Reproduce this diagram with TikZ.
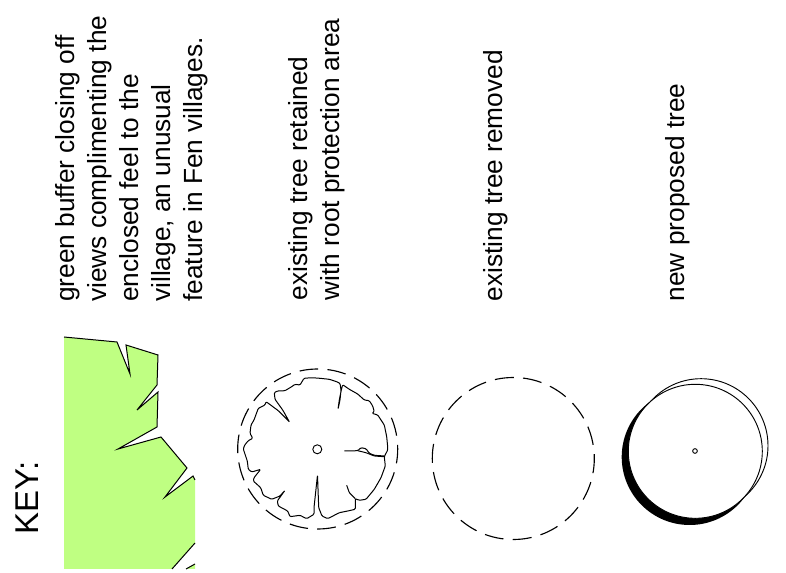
\documentclass[tikz,border=0pt]{standalone}
\usepackage{fontspec}
\setmainfont{Liberation Sans}
\usetikzlibrary{positioning}
\definecolor{buffergreen}{RGB}{191,255,130}
\tikzset{
  keytext/.style={rotate=90,anchor=west,align=left,inner sep=0pt,font=\fontsize{19.7}{24}\selectfont},
  keyhead/.style={rotate=90,anchor=west,inner sep=0pt,font=\fontsize{24.7}{28}\selectfont},
  edgeln/.style={line width=0.75pt,line join=miter},
  canopy/.style={line width=0.75pt,line join=round,rounded corners=0.8pt},
  rpa/.style={line width=0.85pt,dash pattern=on #1pt off 6.95pt,dash phase=3.2pt},
  ringln/.style={line width=0.7pt},
}
\begin{document}
\begin{tikzpicture}[x=0.75pt,y=-0.75pt]
  \useasboundingbox (0,0) rectangle (786,573);
  % labels
  \node[keyhead] (keyhd) at (27.5,534.5) {KEY:};
  \node[keytext] (lblbuffer) at (132,302) {green buffer closing off\\views complimenting the\\enclosed feel to the\\village, an unusual\\feature in Fen villages.};
  \node[keytext] (lblkept) at (317,300.5) {existing tree retained\\with root protection area};
  \node[keytext] (lblgone) at (496,301.5) {existing tree removed};
  \node[keytext] (lblnew) at (678,301.5) {new proposed tree};
  % green buffer
  \fill[buffergreen] (64,337)--(117,342)--(130,374)--(126,345)--(158,355)--(157,385)--(137,410)
    --(158,392)--(157,427)--(118,449)--(161,437)--(187,468)--(165,497)--(193,476)--(195,480)
    --(195,543)--(172,569)--(64,569)--cycle;
  \fill[buffergreen] (186,569)--(195,564)--(195,569)--cycle;
  \draw[edgeln] (64,337)--(117,342)--(130,374)--(126,345)--(158,355)--(157,385)--(137,410)
    --(158,392)--(157,427)--(118,449)--(161,437)--(187,468)--(165,497)--(193,476)--(195,480);
  \draw[edgeln] (195,543)--(172,569);
  \draw[edgeln] (186,569)--(195,564);
  % tree retained
  \draw[canopy] (289.3,421.7)--(282.7,410)--(275,399.3)--(274.3,392.7)--(277.3,391)--(285,390.7)
    --(291.7,386.7)--(295,384.3)--(300,385)--(304,378.3)--(311.7,377.7)--(320,378.3)--(329.3,379.3)
    --(336.7,381.7)--(340,383.3)--(341,390)--(340,400)--(338,409.3)--(339.3,400)--(341.3,390)
    --(342.7,384.7)--(349.3,389.3)--(357.7,394)--(364.3,400)--(369.3,400.7)--(372.7,406)--(374.3,411.7)
    --(372,413.3)--(377.7,415)--(381,420)--(384.3,425)--(386.7,436.7)--(387.7,447)--(387.7,450)
    --(384.3,456.7)--(385.3,466)--(381,477.7)--(374.3,489.3)--(366,499.3)--(359.3,500.3)--(355.3,498.7)
    --(355.3,509.3)--(347.7,511)--(339.3,512.7)--(327.7,518.7)--(322,516)--(318.7,507.7)--(317.5,475)
    --(314,507.7)--(314,514.3)--(306.7,518.7)--(300,515.3)--(290,516.7)--(287.7,511)--(278.3,506)
    --(277.3,501)--(285,490.3)--(280,496)--(271.7,499.3)--(263.3,495.3)--(260.7,487.7)--(253.3,481)
    --(254,477.7)--(260.7,469.3)--(251.7,472)--(248.3,469.3)--(247.3,461)--(243.3,449)--(244.7,445)
    --(248.3,440.7)--(252.7,438.3)--(250,433.3)--(251,425)--(254,420)--(258.3,408.3)--(265,405)
    --(266,401.7)--(268.3,403.3)--(278.3,410.7)--(289.3,421.7);
  \draw[canopy] (355.3,498.7)--(349.3,492.7)--(346.7,485.3);
  \draw[canopy] (344.3,451)--(357.7,450.7)--(361,447.7)--(366,448.7)--(369.3,453.3)--(374.3,455.3)--(384.3,456);
  \draw[canopy] (357.7,450.7)--(366,452.7)--(374.3,456)--(384.3,456.7);
  \node[circle,draw,line width=0.7pt,minimum size=6.75pt,inner sep=0pt] (trunkkept) at (317.3,449.3) {};
  \draw[rpa=14] (317.7,449) circle (80);
  % tree removed
  \draw[rpa=14.25] (513.3,458.5) circle (81);
  % new tree
  \draw[ringln] (701,445.7) circle (67);
  \fill (689.7,457) circle (68);
  \draw[ringln,fill=white] (695.3,451.3) circle (67);
  \node[circle,draw,line width=0.7pt,minimum size=3.5pt,inner sep=0pt] (trunknew) at (695,451) {};
\end{tikzpicture}
\end{document}
